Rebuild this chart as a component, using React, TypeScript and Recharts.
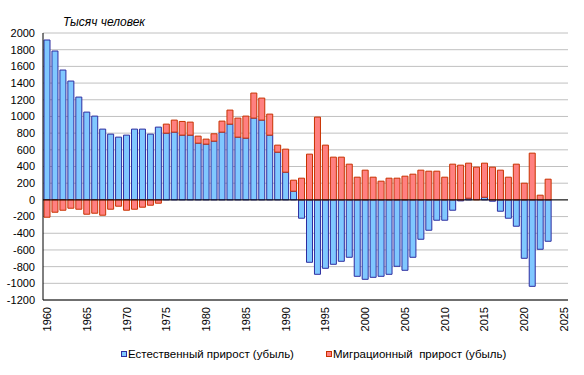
import React from 'react';
import { BarChart, Bar, XAxis, YAxis, CartesianGrid, ReferenceLine } from 'recharts';

// Годы (категории оси X), 2024–2025 пустые
const years = [
  1960, 1961, 1962, 1963, 1964, 1965, 1966, 1967, 1968, 1969,
  1970, 1971, 1972, 1973, 1974, 1975, 1976, 1977, 1978, 1979,
  1980, 1981, 1982, 1983, 1984, 1985, 1986, 1987, 1988, 1989,
  1990, 1991, 1992, 1993, 1994, 1995, 1996, 1997, 1998, 1999,
  2000, 2001, 2002, 2003, 2004, 2005, 2006, 2007, 2008, 2009,
  2010, 2011, 2012, 2013, 2014, 2015, 2016, 2017, 2018, 2019,
  2020, 2021, 2022, 2023, 2024, 2025,
];

// Естественный прирост (убыль), тыс. человек
const natural = [
  1916, 1784, 1556, 1424, 1232, 1052, 1004, 848, 788, 752,
  776, 848, 848, 788, 872, 800, 812, 776, 776, 680,
  668, 704, 812, 908, 752, 740, 980, 956, 776, 572,
  332, 104, -220, -748, -892, -820, -772, -736, -688, -916,
  -952, -928, -916, -892, -796, -844, -688, -472, -364, -244,
  -244, -124, -12, 20, 0, 32, -16, -136, -220, -316,
  -700, -1036, -592, -496,
];

// Миграционный прирост (убыль), тыс. человек
const migration = [
  -208, -148, -124, -100, -112, -172, -160, -184, -112, -76,
  -124, -112, -88, -64, -40, 108, 144, 164, 156, 84,
  60, 88, 132, 168, 228, 264, 300, 264, 252, 84,
  276, 132, 260, 548, 992, 656, 512, 512, 428, 272,
  356, 272, 224, 260, 260, 284, 308, 356, 344, 344,
  272, 428, 416, 420, 392, 408, 392, 356, 272, 428,
  200, 560, 56, 248,
];

const yTicks = [-1200, -1000, -800, -600, -400, -200, 0, 200, 400, 600, 800, 1000, 1200, 1400, 1600, 1800, 2000];

const seriesNames = ['Естественный прирост (убыль)', 'Миграционный  прирост (убыль)'];

const BLUE = '#80c8ff';
const BLUE_EDGE = '#2d2da0';
const RED = '#ff8080';
const RED_EDGE = '#c83200';
const FONT = '"Liberation Sans", Arial, sans-serif';

const data = years.map((year, i) => ({
  year,
  natural: natural[i] ?? null,
  migration: migration[i] ?? null,
}));

const YearTick = (props: any) => {
  const { x, y, payload } = props;
  return (
    <text
      transform={`translate(${x + 4},${y + 1}) rotate(-90)`}
      textAnchor="end"
      fontSize={11}
      fontFamily={FONT}
      fill="#000"
    >
      {payload.value}
    </text>
  );
};

export default function App() {
  return (
    <div style={{ position: 'relative', width: 584, height: 375, background: '#fff', fontFamily: FONT }}>
      <style>{'body{margin:0}'}</style>
      <div style={{ position: 'absolute', left: 63, top: 15, fontSize: 12, fontStyle: 'italic', color: '#000' }}>
        Тысяч человек
      </div>
      <BarChart
        width={584}
        height={375}
        data={data}
        stackOffset="sign"
        margin={{ top: 33, right: 16, left: 0, bottom: 35 }}
      >
        <CartesianGrid vertical={false} stroke="#c0c0c0" />
        <XAxis
          dataKey="year"
          interval={4}
          tick={<YearTick />}
          tickLine={false}
          tickSize={4}
          height={40}
          axisLine={{ stroke: '#000' }}
        />
        <XAxis
          xAxisId="top"
          dataKey="year"
          orientation="top"
          height={0}
          tick={false}
          tickLine={false}
          axisLine={{ stroke: '#000' }}
        />
        <YAxis
          domain={[-1200, 2000]}
          ticks={yTicks}
          interval={0}
          width={43}
          tickLine={false}
          tickSize={6}
          tickMargin={2}
          axisLine={{ stroke: '#000' }}
          tick={{ fontSize: 11, fill: '#000', fontFamily: FONT }}
        />
        <YAxis
          yAxisId="right"
          orientation="right"
          domain={[0, 1]}
          width={0}
          tick={false}
          tickLine={false}
          axisLine={{ stroke: '#000' }}
        />
        <Bar
          dataKey="natural"
          stackId="a"
          barSize={6}
          fill={BLUE}
          stroke={BLUE_EDGE}
          strokeWidth={1}
          isAnimationActive={false}
        />
        <Bar
          dataKey="migration"
          stackId="a"
          barSize={6}
          fill={RED}
          stroke={RED_EDGE}
          strokeWidth={1}
          isAnimationActive={false}
        />
        <ReferenceLine y={0} stroke="#000" />
      </BarChart>
      {/* Легенда */}
      <div style={{ position: 'absolute', top: 348, left: 121, display: 'flex', fontSize: 11.5, color: '#000' }}>
        {seriesNames.map((name, i) => (
          <div key={name} style={{ display: 'flex', alignItems: 'center', marginRight: i === 0 ? 32 : 0 }}>
            <span
              style={{
                display: 'inline-block',
                width: 4,
                height: 4,
                marginRight: 1,
                background: i === 0 ? BLUE : RED,
                border: `1px solid ${i === 0 ? BLUE_EDGE : RED_EDGE}`,
              }}
            />
            <span style={{ whiteSpace: 'pre' }}>{name}</span>
          </div>
        ))}
      </div>
    </div>
  );
}
